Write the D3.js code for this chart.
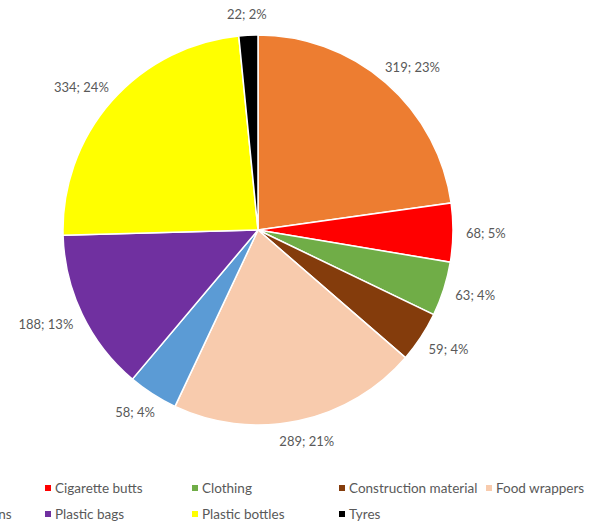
<!DOCTYPE html>
<html>
<head>
<meta charset="utf-8">
<script src="https://cdn.jsdelivr.net/npm/d3@7"></script>
<style>
  body { margin: 0; background: #fff; }
  svg text { font-family: Lato, "Open Sans", sans-serif; fill: #595959; }
</style>
</head>
<body>
<div id="chart"></div>
<script>
var width = 589, height = 528;

// slices, clockwise from 12 o'clock
var categories = ['Bottle caps', 'Cigarette butts', 'Clothing', 'Construction material',
    'Food wrappers', 'Metal drinks cans', 'Plastic bags', 'Plastic bottles', 'Tyres'];
var counts = [319, 68, 63, 59, 289, 58, 188, 334, 22];
var percents = ['23%', '5%', '4%', '4%', '21%', '4%', '13%', '24%', '2%'];
var colours = ['#ED7D31', '#FF0000', '#70AD47', '#843C0C', '#F8CBAD',
    '#5B9BD5', '#7030A0', '#FFFF00', '#000000'];

var cx = 258, cy = 230, radius = 195;

var svg = d3.select('#chart')
    .append('svg')
    .attr('width', width)
    .attr('height', height);

var rows = categories.map(function (c, i) {
    return { name: c, value: counts[i], pct: percents[i], colour: colours[i] };
});

var pie = d3.pie()
    .sort(null)
    .value(function (d) { return d.value; });

var arc = d3.arc()
    .innerRadius(0)
    .outerRadius(radius);

var g = svg.append('g')
    .attr('transform', 'translate(' + cx + ',' + cy + ')');

var arcs = pie(rows);

g.selectAll('path')
    .data(arcs).enter()
    .append('path')
    .attr('d', arc)
    .attr('fill', function (d) { return d.data.colour; })
    .attr('stroke', '#fff')
    .attr('stroke-width', 1.5);

// labels just outside the rim, pushed out by half the text box
var labels = g.selectAll('text.lbl')
    .data(arcs).enter()
    .append('text')
    .attr('class', 'lbl')
    .attr('font-size', 13)
    .attr('text-anchor', 'middle')
    .attr('dominant-baseline', 'central')
    .text(function (d) { return d.data.value + '; ' + d.data.pct; });

labels.each(function (d) {
    var a = (d.startAngle + d.endAngle) / 2;
    var box = this.getBBox();
    var r = radius + 13;
    var x = Math.sin(a) * r + Math.sin(a) * box.width / 2;
    var y = -Math.cos(a) * r - Math.cos(a) * box.height / 2;
    d3.select(this).attr('x', x).attr('y', y);
});

// legend, two rows, the first column runs off the left edge
var colW = 147, legX = 48 - colW, rowY = [488, 514];

var legend = svg.selectAll('g.leg')
    .data(rows).enter()
    .append('g')
    .attr('class', 'leg')
    .attr('transform', function (d, i) {
        var col = i < 5 ? i : i - 5;
        var row = i < 5 ? 0 : 1;
        return 'translate(' + (legX + col * colW) + ',' + rowY[row] + ')';
    });

legend.append('rect')
    .attr('x', -3)
    .attr('y', -3)
    .attr('width', 6)
    .attr('height', 6)
    .attr('fill', function (d) { return d.colour; });

legend.append('text')
    .attr('x', 7)
    .attr('font-size', 13.5)
    .attr('dominant-baseline', 'central')
    .text(function (d) { return d.name; });
</script>
</body>
</html>
